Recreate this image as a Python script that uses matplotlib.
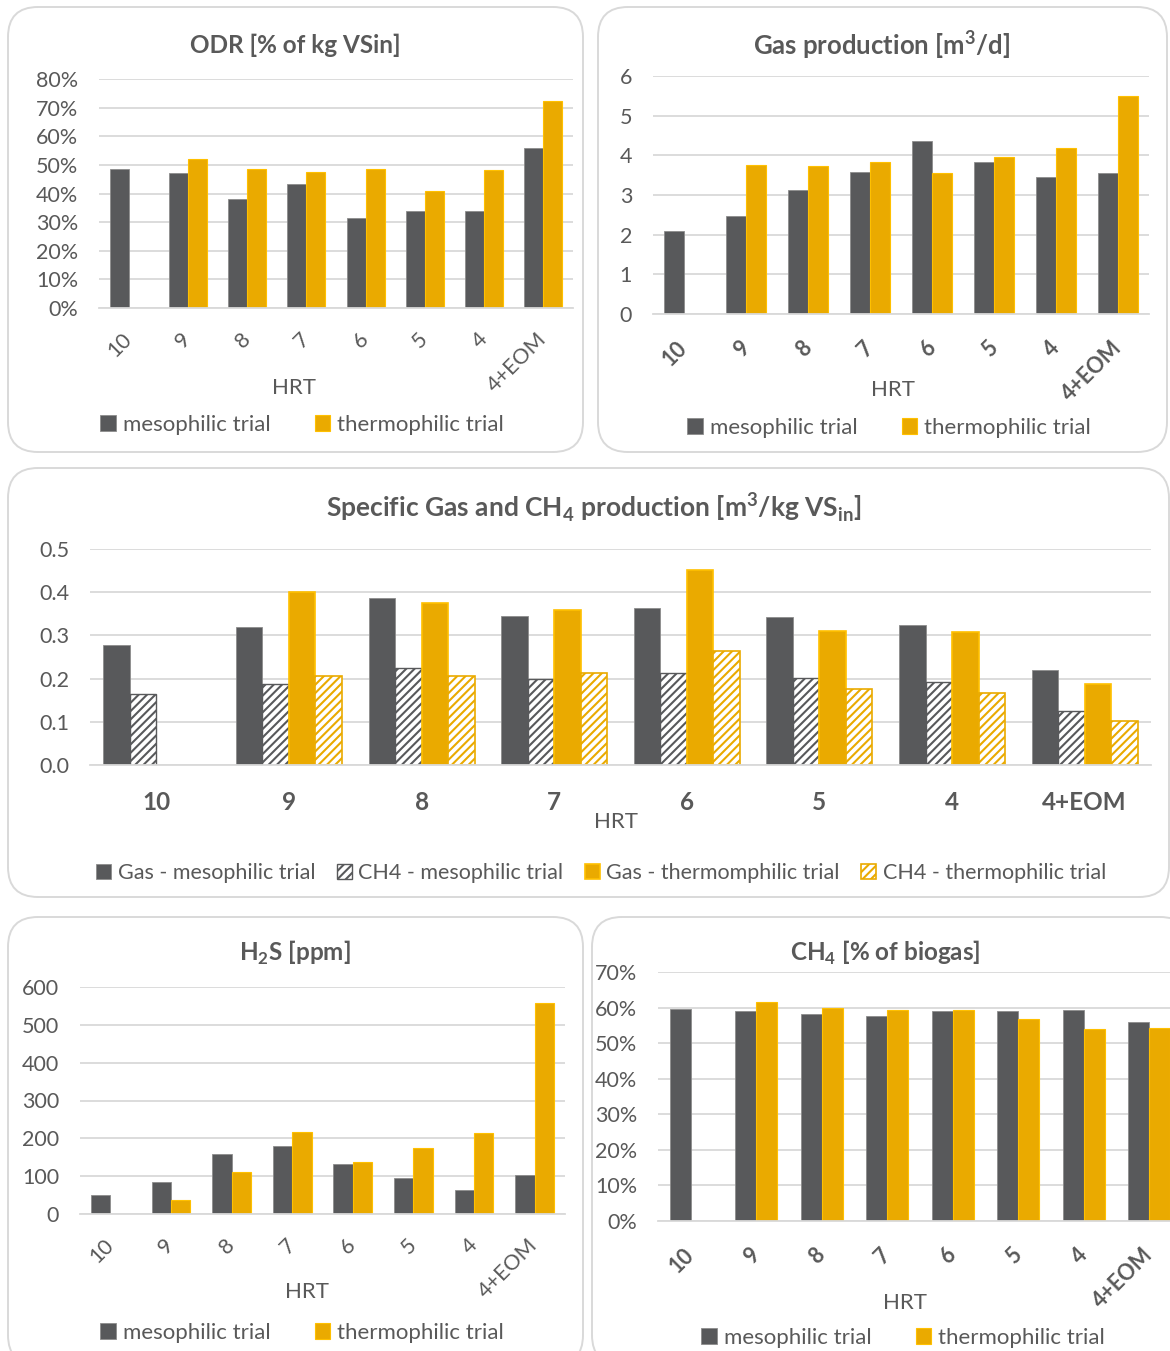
import numpy as np
import matplotlib
matplotlib.use("Agg")
import matplotlib.pyplot as plt
from matplotlib.patches import FancyBboxPatch
from matplotlib.ticker import PercentFormatter, MultipleLocator, FormatStrFormatter

# ---------------- data ----------------
categories = ['10', '9', '8', '7', '6', '5', '4', '4+EOM']

odr_meso = [48.7, 47.0, 38.0, 43.3, 31.5, 33.9, 33.9, 56.0]
odr_thermo = [np.nan, 51.9, 48.4, 47.5, 48.5, 41.0, 48.2, 72.2]

gas_meso = [2.10, 2.47, 3.12, 3.59, 4.37, 3.82, 3.45, 3.55]
gas_thermo = [np.nan, 3.76, 3.72, 3.83, 3.56, 3.97, 4.19, 5.49]

spec_gas_meso = [0.278, 0.319, 0.387, 0.344, 0.364, 0.343, 0.324, 0.221]
spec_ch4_meso = [0.164, 0.187, 0.225, 0.198, 0.214, 0.202, 0.192, 0.124]
spec_gas_thermo = [np.nan, 0.400, 0.376, 0.359, 0.452, 0.311, 0.307, 0.187]
spec_ch4_thermo = [np.nan, 0.205, 0.205, 0.213, 0.265, 0.177, 0.166, 0.103]

h2s_meso = [50, 85, 159, 179, 132, 95, 63, 103]
h2s_thermo = [np.nan, 36, 111, 217, 137, 174, 213, 559]

ch4_meso = [59.5, 58.9, 58.3, 57.5, 59.0, 59.1, 59.2, 55.9]
ch4_thermo = [np.nan, 61.5, 60.0, 59.2, 59.4, 56.8, 54.0, 54.3]

# ---------------- style ----------------
W, H = 1170, 1351
DARK = '#58595B'
GOLD = '#EAAA00'
GOLD_EDGE = '#FFC000'
TXT = '#595959'
GRID = '#D9D9D9'

plt.rcParams['font.family'] = ['Lato', 'DejaVu Sans']
plt.rcParams['mathtext.fontset'] = 'custom'
plt.rcParams['mathtext.rm'] = 'Lato'
plt.rcParams['mathtext.bf'] = 'Lato:bold'
plt.rcParams['hatch.linewidth'] = 1.5

FS_TICK = 15.5
FS_LEG = 16
FS_TITLE = 17.5

fig = plt.figure(figsize=(W / 100, H / 100), dpi=100)
fig.patch.set_facecolor('white')

# background layer in pixel units for the rounded panel frames
bg = fig.add_axes([0, 0, 1, 1], zorder=-5)
bg.set_xlim(0, W)
bg.set_ylim(H, 0)
bg.axis('off')
for (x0, y0, x1, y1) in [(8, 7, 583, 452), (598, 7, 1167, 452),
                         (8, 468, 1169, 897), (8, 917, 583, 1365),
                         (592, 917, 1190, 1365)]:
    bg.add_patch(FancyBboxPatch((x0, y0), x1 - x0, y1 - y0,
                                boxstyle='round,pad=0,rounding_size=30',
                                facecolor='white', edgecolor=GRID, lw=1.4))


def px_axes(left, top, right, bottom):
    return fig.add_axes([left / W, 1 - bottom / H, (right - left) / W, (bottom - top) / H])


def style_axes(ax, ymax, step):
    ax.set_ylim(0, ymax)
    ax.yaxis.set_major_locator(MultipleLocator(step))
    ax.grid(axis='y', color=GRID, lw=1.3)
    ax.set_axisbelow(True)
    for s in ['top', 'right', 'left']:
        ax.spines[s].set_visible(False)
    ax.spines['bottom'].set_color(GRID)
    ax.spines['bottom'].set_linewidth(1.3)
    ax.tick_params(axis='both', length=0, colors=TXT, labelsize=FS_TICK)
    ax.tick_params(axis='y', pad=15)
    ax.set_xlim(-0.5, len(categories) - 0.5)


def pair_bars(ax, meso, thermo, width=0.32):
    x = np.arange(len(categories))
    b1 = ax.bar(x - width / 2, meso, width, color=DARK, edgecolor='#8C8C8C', lw=0.6,
                label='mesophilic trial')
    b2 = ax.bar(x + width / 2, thermo, width, color=GOLD, edgecolor=GOLD_EDGE, lw=0.8,
                label='thermophilic trial')
    return b1, b2


def rotated_labels(ax, bold, pad):
    ax.set_xticks(np.arange(len(categories)))
    ax.set_xticklabels(categories, rotation=45, ha='right', va='center',
                       rotation_mode='anchor', fontsize=FS_TICK,
                       fontweight='bold' if bold else 'normal', color=TXT)
    ax.tick_params(axis='x', pad=pad)


def legend2(handles, labels, cx, cy, colsp=2.0):
    fig.legend(handles, labels, loc='center', bbox_to_anchor=(cx / W, 1 - cy / H),
               ncol=len(handles), frameon=False, fontsize=FS_LEG,
               handlelength=0.7, handleheight=0.7, handletextpad=0.3,
               columnspacing=colsp, labelcolor=TXT)


# ---------- ODR ----------
ax1 = px_axes(99, 79, 573, 308)
b1, b2 = pair_bars(ax1, odr_meso, odr_thermo)
style_axes(ax1, 80, 10)
ax1.yaxis.set_major_formatter(PercentFormatter(100, decimals=0))
rotated_labels(ax1, False, 20)
fig.text(295 / W, 1 - 45 / H, 'ODR [% of kg VSin]', ha='center', va='center',
         fontsize=FS_TITLE, fontweight='bold', color=TXT)
fig.text(294 / W, 1 - 388 / H, 'HRT', ha='center', va='center', fontsize=FS_LEG, color=TXT)
legend2([b1, b2], ['mesophilic trial', 'thermophilic trial'], 302, 425)

# ---------- Gas production ----------
ax2 = px_axes(653, 76, 1149, 314)
b1, b2 = pair_bars(ax2, gas_meso, gas_thermo)
style_axes(ax2, 6, 1)
rotated_labels(ax2, True, 22)
fig.text(882 / W, 1 - 45 / H, r'Gas production [m$^\mathregular{3}$/d]', ha='center', va='center',
         fontsize=18.5, fontweight='bold', color=TXT)
fig.text(893 / W, 1 - 390 / H, 'HRT', ha='center', va='center', fontsize=FS_LEG, color=TXT)
legend2([b1, b2], ['mesophilic trial', 'thermophilic trial'], 889, 428)

# ---------- Specific gas and CH4 production ----------
ax3 = px_axes(90, 549, 1151, 765)
x = np.arange(len(categories))
w = 0.2
h1 = ax3.bar(x - 1.5 * w, spec_gas_meso, w, color=DARK, edgecolor='#8C8C8C', lw=0.6)
h2 = ax3.bar(x - 0.5 * w, spec_ch4_meso, w, color='white', edgecolor=DARK, lw=1.0, hatch='////')
h3 = ax3.bar(x + 0.5 * w, spec_gas_thermo, w, color=GOLD, edgecolor=GOLD_EDGE, lw=1.2)
h4 = ax3.bar(x + 1.5 * w, spec_ch4_thermo, w, color='white', edgecolor=GOLD, lw=1.2, hatch='////')
style_axes(ax3, 0.5, 0.1)
ax3.yaxis.set_major_formatter(FormatStrFormatter('%.1f'))
ax3.set_xticks(x)
ax3.set_xticklabels(categories, fontsize=17.5, fontweight='bold', color=TXT)
ax3.tick_params(axis='x', pad=19)
fig.text(594 / W, 1 - 507 / H,
         r'Specific Gas and CH$_\mathregular{4}$ production [m$^\mathregular{3}$/kg VS$_\mathregular{in}$]',
         ha='center', va='center', fontsize=19, fontweight='bold', color=TXT)
fig.text(616 / W, 1 - 822 / H, 'HRT', ha='center', va='center', fontsize=FS_LEG, color=TXT)
fig.legend([h1, h2, h3, h4],
           ['Gas - mesophilic trial', 'CH4 - mesophilic trial',
            'Gas - thermomphilic trial', 'CH4 - thermophilic trial'],
           loc='center', bbox_to_anchor=(601 / W, 1 - 873 / H), ncol=4, frameon=False,
           fontsize=15.5, handlelength=0.7, handleheight=0.7, handletextpad=0.3,
           columnspacing=1.0, labelcolor=TXT)

# ---------- H2S ----------
ax4 = px_axes(80, 987, 565, 1214)
b1, b2 = pair_bars(ax4, h2s_meso, h2s_thermo)
style_axes(ax4, 600, 100)
rotated_labels(ax4, False, 20)
fig.text(295 / W, 1 - 953 / H, r'H$_\mathregular{2}$S [ppm]', ha='center', va='center',
         fontsize=FS_TITLE, fontweight='bold', color=TXT)
fig.text(307 / W, 1 - 1292 / H, 'HRT', ha='center', va='center', fontsize=FS_LEG, color=TXT)
legend2([b1, b2], ['mesophilic trial', 'thermophilic trial'], 302, 1333)

# ---------- CH4 content ----------
ax5 = px_axes(658, 972, 1182, 1221)
b1, b2 = pair_bars(ax5, ch4_meso, ch4_thermo)
style_axes(ax5, 70, 10)
ax5.yaxis.set_major_formatter(PercentFormatter(100, decimals=0))
rotated_labels(ax5, True, 22)
fig.text(885 / W, 1 - 953 / H, r'CH$_\mathregular{4}$ [% of biogas]', ha='center', va='center',
         fontsize=FS_TITLE, fontweight='bold', color=TXT)
fig.text(905 / W, 1 - 1303 / H, 'HRT', ha='center', va='center', fontsize=FS_LEG, color=TXT)
legend2([b1, b2], ['mesophilic trial', 'thermophilic trial'], 903, 1338)

fig.savefig('out.png', dpi=100, facecolor='white')
